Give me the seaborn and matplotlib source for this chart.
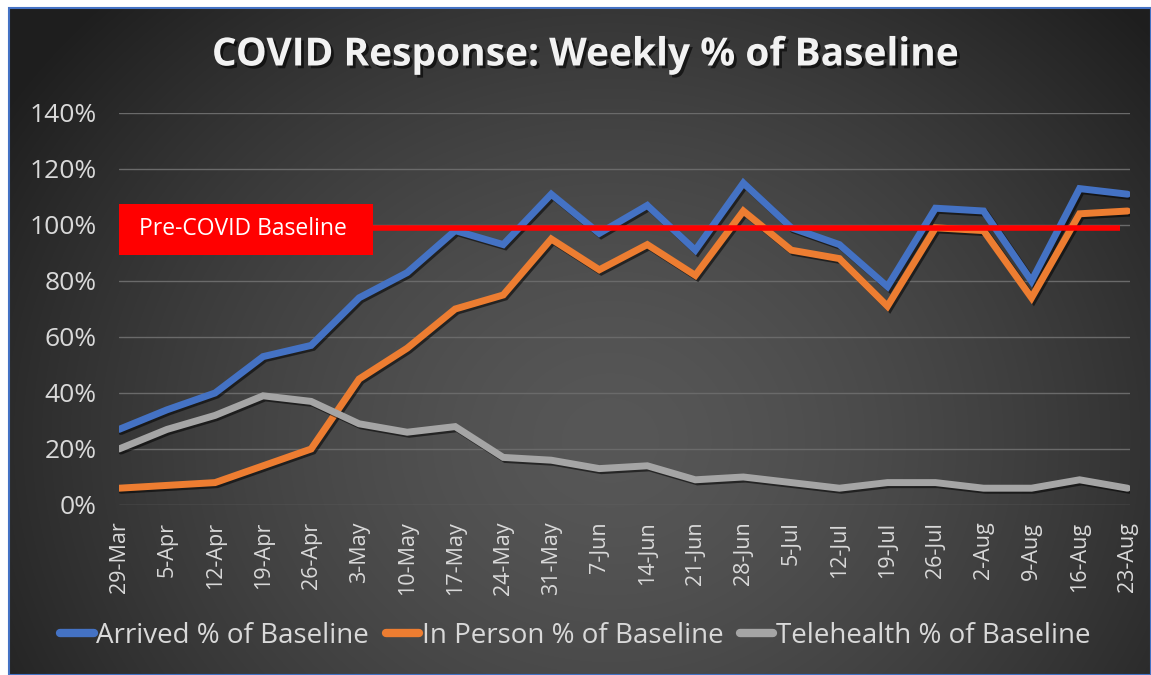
import numpy as np
import pandas as pd
import matplotlib
matplotlib.use('Agg')
import matplotlib.pyplot as plt
import matplotlib.patheffects as pe
from matplotlib.patches import Rectangle
from matplotlib.ticker import PercentFormatter
import seaborn as sns

# ---- data ----
weeks = ['29-Mar', '5-Apr', '12-Apr', '19-Apr', '26-Apr', '3-May', '10-May',
         '17-May', '24-May', '31-May', '7-Jun', '14-Jun', '21-Jun', '28-Jun',
         '5-Jul', '12-Jul', '19-Jul', '26-Jul', '2-Aug', '9-Aug', '16-Aug', '23-Aug']
arrived = [27, 34, 40, 53, 57, 74, 83, 98, 93, 111, 97, 107, 91, 115,
           99, 93, 78, 106, 105, 80, 113, 111]
in_person = [6, 7, 8, 14, 20, 45, 56, 70, 75, 95, 84, 93, 82, 105,
             91, 88, 71, 99, 98, 74, 104, 105]
telehealth = [20, 27, 32, 39, 37, 29, 26, 28, 17, 16, 13, 14, 9, 10,
              8, 6, 8, 8, 6, 6, 9, 6]
series_names = ['Arrived % of Baseline', 'In Person % of Baseline',
                'Telehealth % of Baseline']
baseline = 99
baseline_label = 'Pre-COVID Baseline'
y_ticks = [0, 20, 40, 60, 80, 100, 120, 140]

colors = ['#4472C4', '#ED7D31', '#A5A5A5']

df = pd.DataFrame({
    'week': weeks * 3,
    'value': arrived + in_person + telehealth,
    'series': [series_names[0]] * len(weeks) + [series_names[1]] * len(weeks)
              + [series_names[2]] * len(weeks),
})

sns.set_theme(style='dark')
plt.rcParams['font.family'] = ['Open Sans', 'DejaVu Sans']

W, H = 1151, 675
fig = plt.figure(figsize=(W / 100, H / 100), dpi=100)
fig.patch.set_facecolor('white')

# chart area background: dark radial gradient
x0, y0 = 9, 8  # px, chart frame top-left
bg = fig.add_axes([x0 / W, 0, 1 - x0 / W, 1 - y0 / H], zorder=0)
gx, gy = np.meshgrid(np.arange(x0, W), np.arange(y0, H))
r = np.sqrt((gx - 610) ** 2 + ((gy - 440) * 1.15) ** 2) / 720
shade = 0x1e + (0x57 - 0x1e) * np.clip(1 - r ** 1.5, 0, 1)
img = np.dstack([shade, shade, shade]) / 255
bg.imshow(img, aspect='auto', extent=[0, 1, 0, 1])
bg.set_axis_off()
fig.add_artist(Rectangle((x0 / W, 0), 1 - x0 / W, 1 - y0 / H, transform=fig.transFigure,
                         fill=False, edgecolor='#4472C4', lw=1.5, zorder=1))

# main plot
left, right = 119 / W, 1130 / W
bottom, top = 1 - 505 / H, 1 - 113 / H
ax = fig.add_axes([left, bottom, right - left, top - bottom], zorder=2)
ax.patch.set_alpha(0)

sns.lineplot(data=df, x='week', y='value', hue='series', palette=colors,
             sort=False, lw=5, ax=ax, zorder=4)
shadow = [pe.SimpleLineShadow(offset=(1.5, -1.5), shadow_color='black', alpha=0.55),
          pe.Normal()]
for ln in ax.get_lines():
    ln.set_path_effects(shadow)
    ln.set_solid_capstyle('round')
    ln.set_solid_joinstyle('miter')

ax.hlines(baseline, 0, len(weeks) - 1.15, color='#FF0000', lw=4, zorder=5)

ax.set_ylim(0, 140)
ax.set_xlim(0, len(weeks) - 1 + 0.05)
ax.set_yticks(y_ticks)
ax.yaxis.set_major_formatter(PercentFormatter(decimals=0))
ax.grid(axis='y', color='#6a6a6a', lw=1)
ax.grid(axis='x', visible=False)
ax.set_axisbelow(True)
for s in ax.spines.values():
    s.set_visible(False)
ax.tick_params(axis='y', colors='#d9d9d9', labelsize=19, length=0, pad=16)
ax.tick_params(axis='x', colors='#d9d9d9', labelsize=15.5, length=0, pad=12,
               labelrotation=90)
ax.set_xlabel('')
ax.set_ylabel('')

# baseline label box
fig.add_artist(Rectangle((119 / W, 1 - 255 / H), 254 / W, 51 / H,
                         transform=fig.transFigure, facecolor='#FF0000',
                         edgecolor='none', zorder=6))
fig.text(243 / W, 1 - 229 / H, baseline_label, color='white', fontsize=16.5,
         ha='center', va='center', zorder=7)

# title
fig.text(585 / W, 1 - 55 / H, 'COVID Response: Weekly % of Baseline',
         color='#f2f2f2', fontsize=28, fontweight='bold', ha='center', va='center',
         zorder=7,
         path_effects=[pe.withSimplePatchShadow(offset=(2, -2), shadow_rgbFace='black',
                                                alpha=0.6)])

# legend
handles, labels = ax.get_legend_handles_labels()
ax.get_legend().remove()
leg = fig.legend(handles, labels, loc='center', bbox_to_anchor=(0.5, 1 - 636 / H),
                 ncol=3, frameon=False, fontsize=20, handlelength=1.2,
                 handletextpad=0.1, columnspacing=0.6)
for t in leg.get_texts():
    t.set_color('#d9d9d9')
for h in leg.legend_handles:
    h.set_linewidth(6)
    h.set_solid_capstyle('round')
    h.set_path_effects([])

fig.savefig('out.png', dpi=100, facecolor=fig.get_facecolor())
